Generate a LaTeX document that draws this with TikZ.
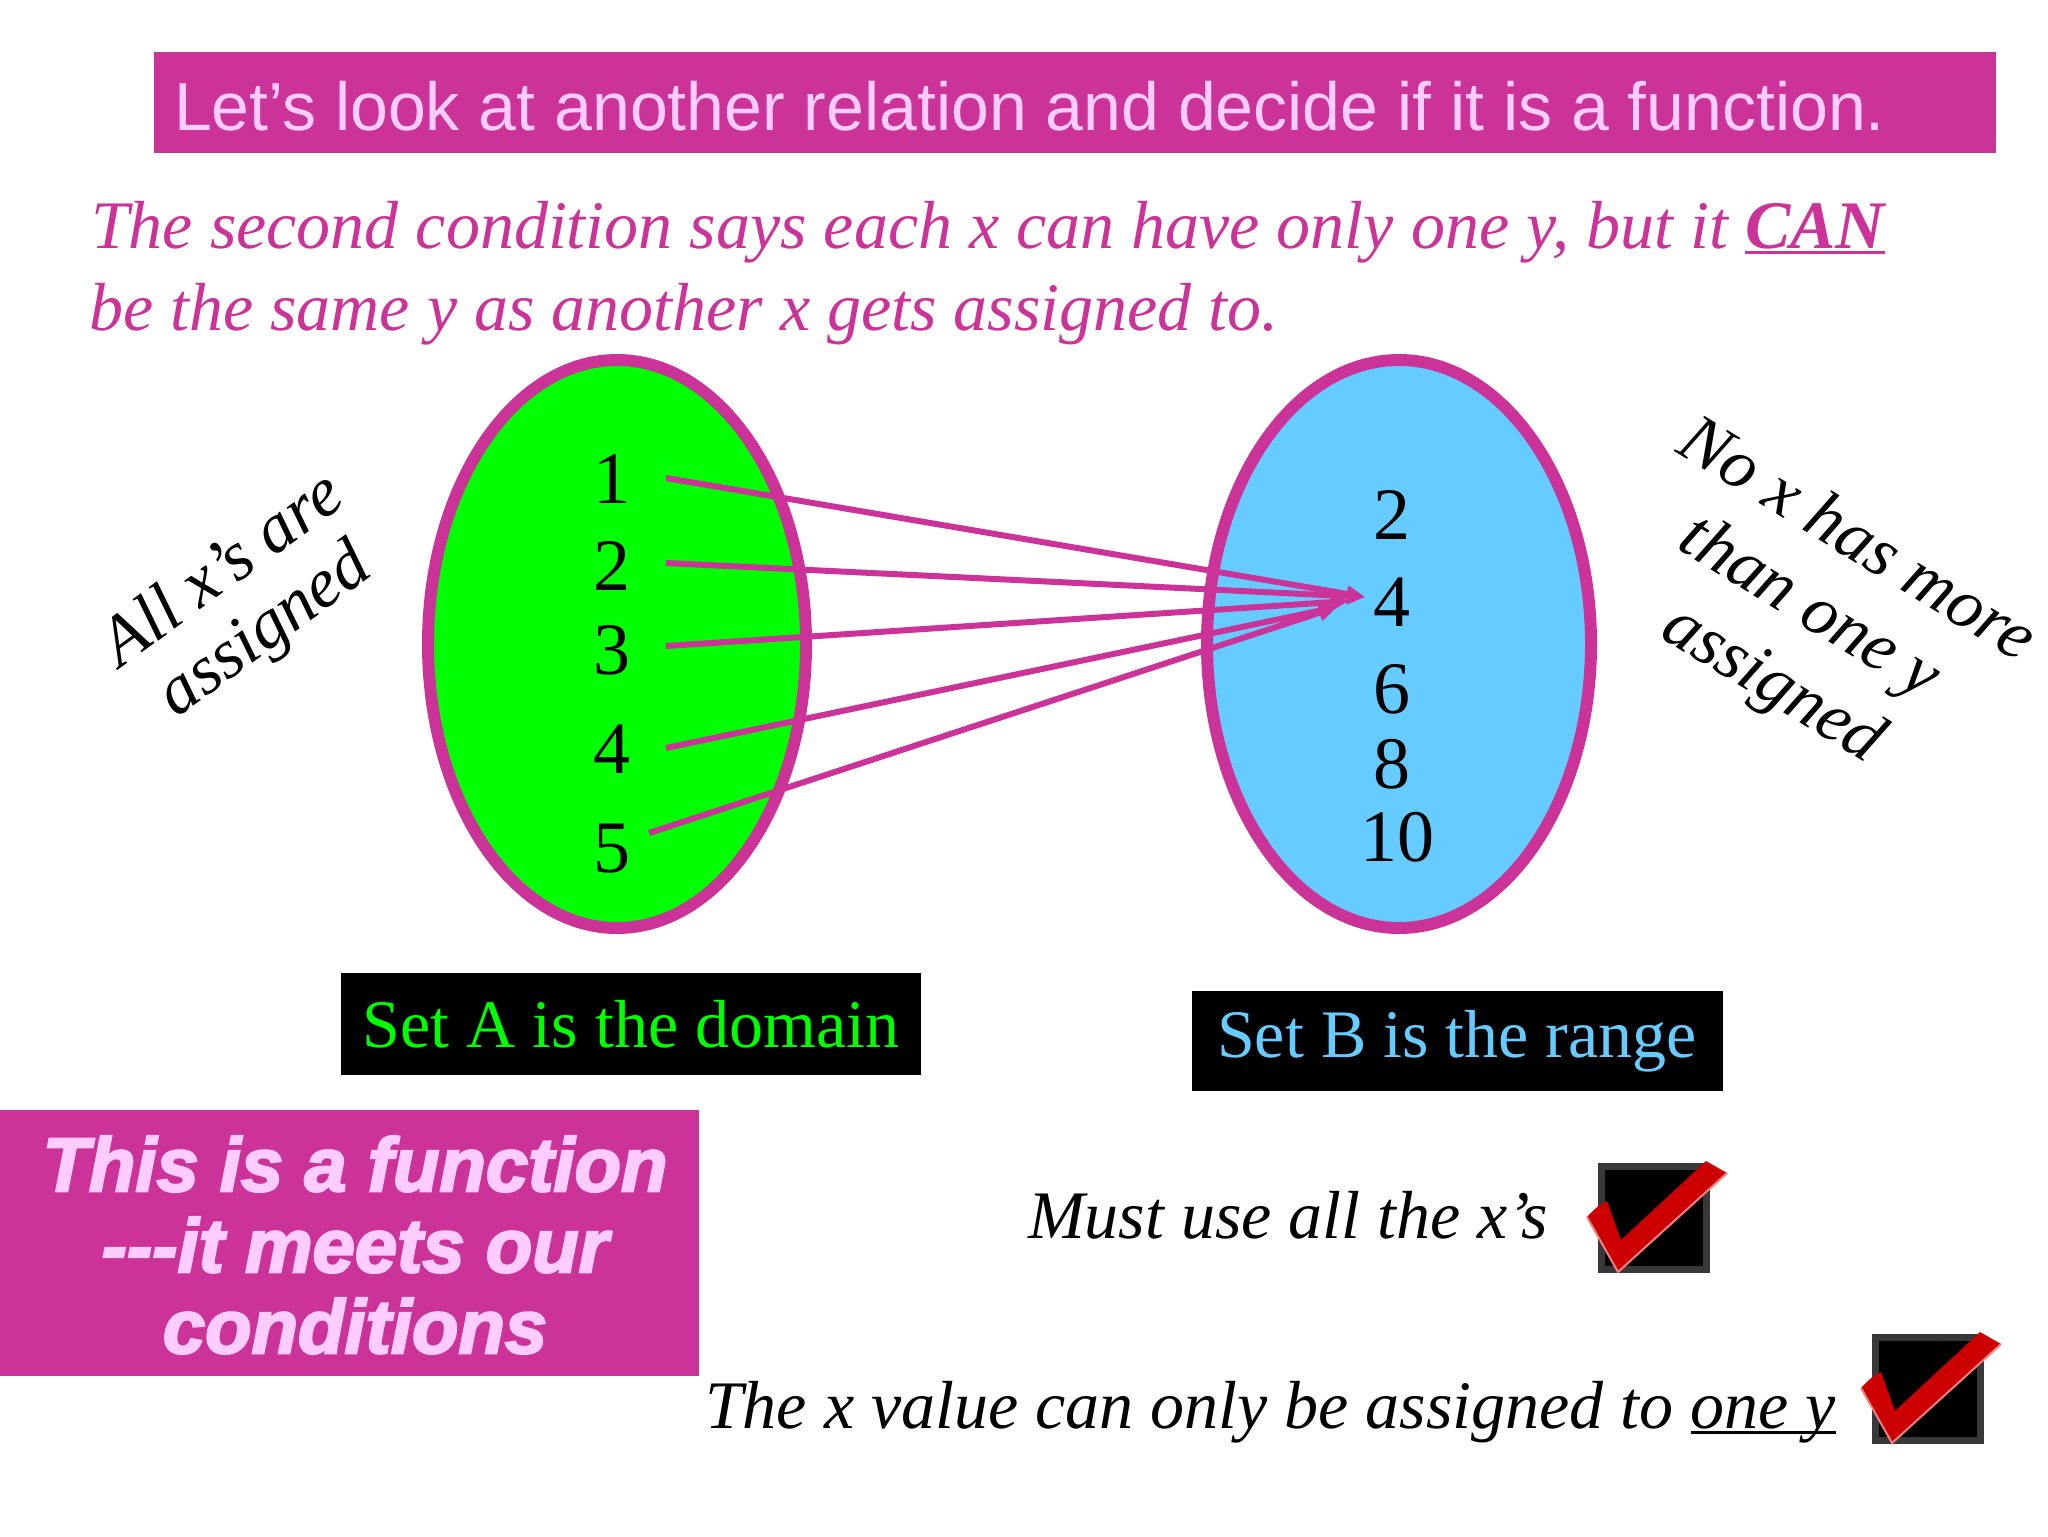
\documentclass[tikz,border=0pt]{standalone}
\usepackage{fontspec}
\setmainfont{Liberation Serif}
\newfontfamily\arialfont{Liberation Sans}
\newfontfamily\heavyfont[ItalicFeatures={FakeBold=3},BoldItalicFeatures={FakeBold=3}]{Liberation Sans}
\usetikzlibrary{arrows.meta}
\definecolor{mag}{HTML}{CC3399}
\definecolor{lpink}{HTML}{FFCCFF}
\definecolor{lgreen}{HTML}{00FF00}
\definecolor{lblue}{HTML}{66CCFF}
\definecolor{chkred}{HTML}{CC0000}
\definecolor{chkedge}{HTML}{F08080}
\definecolor{boxgray}{HTML}{383838}
\newcommand\myul[1]{\setbox0\hbox{#1}\rlap{\rule[-3pt]{\wd0}{1.5pt}}\box0}
\tikzset{
  tickbox/.pic={
    \fill[boxgray] (0,0) rectangle (112,110);
    \fill[black] (7,7) rectangle (105,103);
    \fill[chkred] (-11,54) .. controls (-2,44) and (4,40) .. (9,38) -- (23,77) -- (108,-2) -- (129,10) -- (20,109) -- cycle;
    \draw[chkedge, line width=1pt] (129,10) -- (20,109) -- (-11,54);
  }
}
\begin{document}
\begin{tikzpicture}[x=0.5pt,y=-0.5pt,
  every node/.style={inner sep=0pt, outer sep=0pt},
  body/.style={font=\fontsize{34pt}{40pt}\selectfont\itshape},
  remark/.style={font=\fontsize{35pt}{40pt}\selectfont\itshape, anchor=base},
  num/.style={font=\fontsize{37pt}{40pt}\selectfont, anchor=base},
  setlabel/.style={fill=black, font=\fontsize{34pt}{40pt}\selectfont},
  maparrow/.style={draw=mag, line width=3pt, -{Triangle[length=9pt,width=8pt]}},
  ellipseline/.style={draw=mag, line width=6pt}
]
\useasboundingbox (0,0) rectangle (2048,1536);

% title bar
\fill[mag] (154,52) rectangle (1996,153);
\node[anchor=base west, text=lpink, font=\arialfont\fontsize{34pt}{40pt}\selectfont] (title) at (174,131)
  {Let’s look at another relation and decide if it is a function.};

% condition text
\node[body, anchor=base west, text=mag] (cond1) at (91,248)
  {The second condition says each x can have only one y, but it \myul{\bfseries CAN}};
\node[body, anchor=base west, text=mag] (cond2) at (89,330)
  {be the same y as another x gets assigned to.};

% sets
\draw[ellipseline, fill=lgreen] (617,644) ellipse [x radius=189, y radius=284];
\draw[ellipseline, fill=lblue] (1399,644) ellipse [x radius=192, y radius=284];

\node[num] (a1) at (612,503) {1};
\node[num] (a2) at (612,590) {2};
\node[num] (a3) at (612,674) {3};
\node[num] (a4) at (612,773) {4};
\node[num] (a5) at (612,872) {5};

\node[num] (b2) at (1392,539) {2};
\node[num] (b4) at (1392,626) {4};
\node[num] (b6) at (1392,713) {6};
\node[num] (b8) at (1392,788) {8};
\node[num] (b10) at (1397,861) {10};

\coordinate (s1) at (666,478);
\coordinate (s2) at (666,563);
\coordinate (s3) at (666,646);
\coordinate (s4) at (666,748);
\coordinate (s5) at (649,833);
\coordinate (tip) at (1365,597);
\coordinate (tipb) at (1349,601);
\coordinate (tipc) at (1337,607);

\draw[maparrow] (s1) -- (tip);
\draw[maparrow] (s2) -- (tip);
\draw[maparrow] (s3) -- (tipb);
\draw[maparrow] (s4) -- (tipc);
\draw[maparrow] (s5) -- (tipc);

% rotated remarks
\node[remark, rotate=36] (l1) at (234,586) {All x’s are};
\node[remark, rotate=36] (l2) at (276,646) {assigned};

\node[remark, rotate=-31.5] (r1) at (1847,557) {No x has more};
\node[remark, rotate=-31.5] (r2) at (1800,624) {than one y};
\node[remark, rotate=-31.5] (r3) at (1763,700) {assigned};

% set labels
\node[setlabel, minimum width=290pt, minimum height=51pt, text=lgreen] (setA) at (631,1024) {Set A is the domain};
\node[setlabel, minimum width=265.5pt, minimum height=50pt, text=lblue] (setB) at (1457,1041) {\raisebox{-3pt}{Set B is the range}};

% conclusion box
\node[fill=mag, minimum width=349.5pt, minimum height=133pt] (concl) at (349.5,1243) {};
\node[align=center, text=lpink, font=\heavyfont\bfseries\itshape\fontsize{38pt}{40.5pt}\selectfont] (concltext) at (355,1245)
  {This is a function\\-{}-{}-it meets our\\conditions};

% conditions checked
\node[body, anchor=base west] (must) at (1028,1238) {Must use all the x’s};
\pic at (1598,1163) {tickbox};
\node[body, anchor=base west] (one) at (705,1428) {The x value can only be assigned to \myul{one y}};
\pic at (1872,1334) {tickbox};
\end{tikzpicture}
\end{document}
